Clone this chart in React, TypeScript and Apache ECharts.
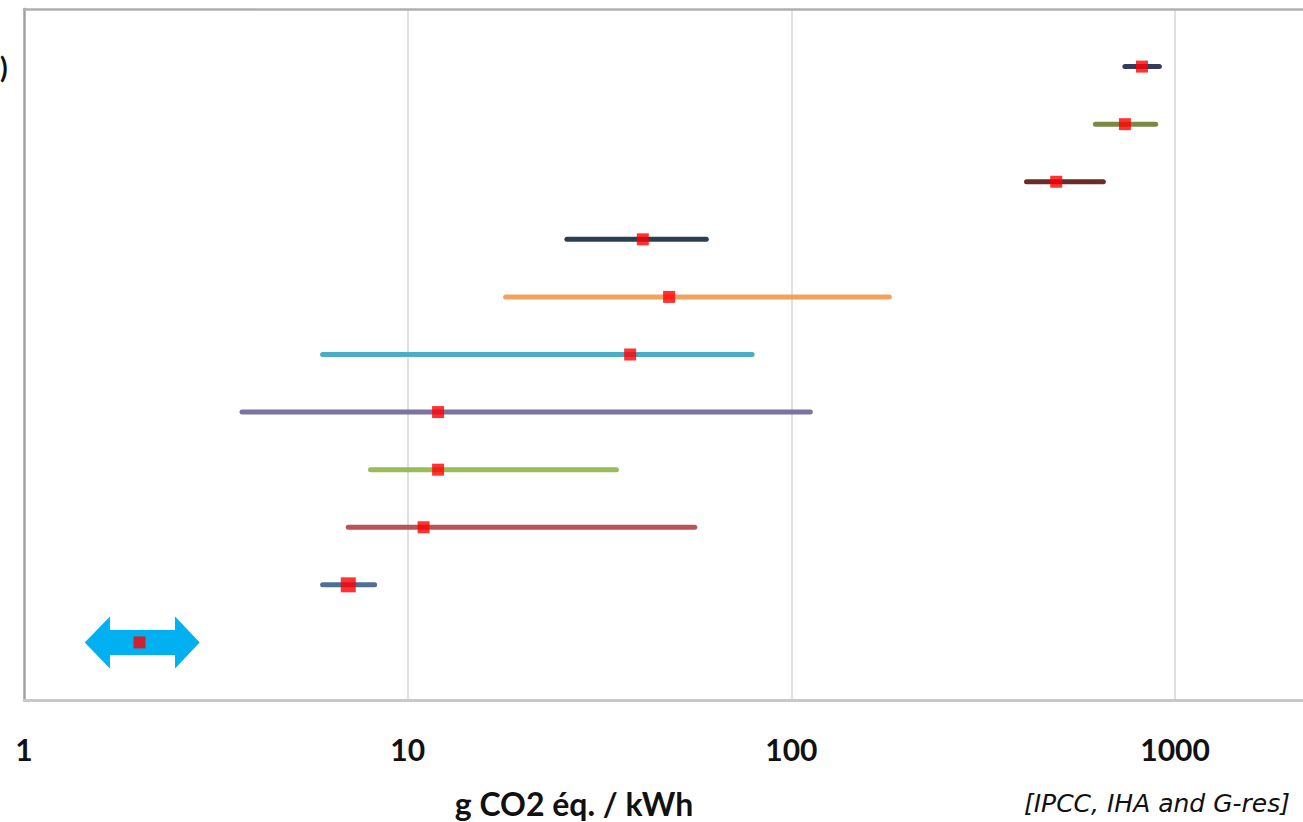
import React, { useEffect, useRef } from "react";
import * as echarts from "echarts";

// Rows from top (y = 11) to bottom (y = 1); labels are cropped off in the reference
const rowNames = [
  "Coal", "Biomass co-firing", "Gas", "Solar PV rooftop", "Solar PV utility",
  "Geothermal", "Hydro", "Wind offshore", "Wind onshore", "Hydro (IHA)", "Hydro (G-res)",
];
const rowY = [11, 10, 9, 8, 7, 6, 5, 4, 3, 2, 1];
const lowValues = [740, 620, 410, 26, 18, 6, 3.7, 8, 7, 6, 1.44];
const medianValues = [820, 740, 490, 41, 48, 38, 12, 12, 11, 7, 2.0];
const highValues = [910, 890, 650, 60, 180, 79, 112, 35, 56, 8.2, 2.87];
// arrow heads for the last row (G-res range)
const arrowHeadStart = 1.675;
const arrowHeadEnd = 2.475;
const xTickLabels = [1, 10, 100, 1000];
const gridLineValues = [10, 100, 1000];

const rowColors = [
  "#333C5E", "#7A8A45", "#6B2B2B", "#2D3E4E", "#F2A25E",
  "#4BACC6", "#7D73A3", "#9BBB59", "#B85458", "#4F6E96", "#00B0F0",
];

export default function App() {
  const ref = useRef<HTMLDivElement>(null);
  useEffect(() => {
    document.body.style.margin = "0";
    document.body.style.overflow = "hidden";
    if (!ref.current) return;
    const chart = echarts.init(ref.current, null, { renderer: "svg" });
    const n = rowY.length;
    const barData = [];
    for (let i = 0; i < n - 1; i++) {
      barData.push([lowValues[i], highValues[i], rowY[i], i]);
    }
    const last = n - 1;
    const arrowData = [[lowValues[last], arrowHeadStart, arrowHeadEnd, highValues[last], rowY[last], last]];
    const markerData = rowY.map((y, i) => [medianValues[i], y]);

    chart.setOption({
      animation: false,
      backgroundColor: "#ffffff",
      grid: { left: 24, right: 0, top: 9, bottom: 122, containLabel: false },
      xAxis: [
        {
          type: "log",
          logBase: 10,
          min: 1,
          max: 2386,
          axisLine: { show: true, onZero: false, lineStyle: { color: "#C8C8C8", width: 3 } },
          axisTick: { show: false },
          splitLine: { show: false },
          axisLabel: {
            margin: 34,
            fontFamily: "Lato",
            fontWeight: "bold",
            fontSize: 30,
            color: "#111111",
            showMaxLabel: false,
            formatter: (v: number) => {
              const r = Math.round(v);
              return xTickLabels.includes(r) && Math.abs(v - r) < 1e-6 * r + 1e-9 ? String(r) : "";
            },
          },
        },
        {
          type: "log",
          logBase: 10,
          min: 1,
          max: 2386,
          position: "top",
          axisLine: { show: true, onZero: false, lineStyle: { color: "#B0B0B0", width: 2.5 } },
          axisTick: { show: false },
          axisLabel: { show: false },
          splitLine: { show: false },
        },
      ],
      yAxis: {
        type: "value",
        min: 0,
        max: 12,
        axisLine: { show: true, onZero: false, lineStyle: { color: "#A0A0A0", width: 2.5 } },
        axisTick: { show: false },
        axisLabel: { show: false },
        splitLine: { show: false },
      },
      series: [
        {
          type: "custom",
          data: barData,
          encode: { x: [0, 1], y: 2 },
          renderItem: (params: any, api: any) => {
            const p1 = api.coord([api.value(0), api.value(2)]);
            const p2 = api.coord([api.value(1), api.value(2)]);
            const idx = api.value(3);
            return {
              type: "line",
              shape: { x1: p1[0], y1: p1[1], x2: p2[0], y2: p2[1] },
              style: { stroke: rowColors[idx], lineWidth: 5, lineCap: "round" },
            };
          },
          markLine: {
            silent: true,
            symbol: ["none", "none"],
            label: { show: false },
            lineStyle: { color: "#D4D4D4", width: 1.5, type: "solid" },
            data: gridLineValues.map((v) => ({ xAxis: v })),
            z: 0,
          },
          z: 2,
        },
        {
          type: "custom",
          data: arrowData,
          encode: { x: [0, 3], y: 4 },
          renderItem: (params: any, api: any) => {
            const y = api.value(4);
            const a = api.coord([api.value(0), y]);
            const b = api.coord([api.value(1), y]);
            const c = api.coord([api.value(2), y]);
            const d = api.coord([api.value(3), y]);
            const cy = a[1];
            const hh = 26;
            const sh = 12.5;
            return {
              type: "polygon",
              shape: {
                points: [
                  [a[0], cy],
                  [b[0], cy - hh],
                  [b[0], cy - sh],
                  [c[0], cy - sh],
                  [c[0], cy - hh],
                  [d[0], cy],
                  [c[0], cy + hh],
                  [c[0], cy + sh],
                  [b[0], cy + sh],
                  [b[0], cy + hh],
                ],
              },
              style: { fill: rowColors[api.value(5)] },
            };
          },
          z: 2,
        },
        {
          type: "scatter",
          data: markerData,
          symbol: "rect",
          symbolSize: (val: any, params: any) => (params.dataIndex === 9 ? 15 : 12),
          itemStyle: { color: "#FF0000" },
          z: 5,
        },
      ],
      graphic: [
        {
          type: "rect",
          x: 1292,
          y: 12,
          z: 100,
          shape: { width: 28, height: 684 },
          style: { fill: "#ffffff" },
        },
        {
          type: "text",
          left: 0,
          top: 53,
          style: { text: ")", fontFamily: "Lato", fontWeight: "bold", fontSize: 28, fill: "#111111" },
        },
        {
          type: "text",
          x: 574,
          y: 803,
          style: {
            text: "g CO2 éq. / kWh",
            fontFamily: "Lato",
            fontWeight: "bold",
            fontSize: 32,
            fill: "#111111",
            align: "center",
            verticalAlign: "middle",
          },
        },
        {
          type: "text",
          x: 1290,
          y: 803,
          style: {
            text: "[IPCC, IHA and G-res]",
            fontFamily: "DejaVu Sans",
            fontStyle: "italic",
            fontSize: 25,
            fill: "#111111",
            align: "right",
            verticalAlign: "middle",
          },
        },
      ],
    });
    return () => chart.dispose();
  }, []);
  return (
    <div
      ref={ref}
      style={{ position: "fixed", left: 0, top: 0, width: 1320, height: 822 }}
    />
  );
}
